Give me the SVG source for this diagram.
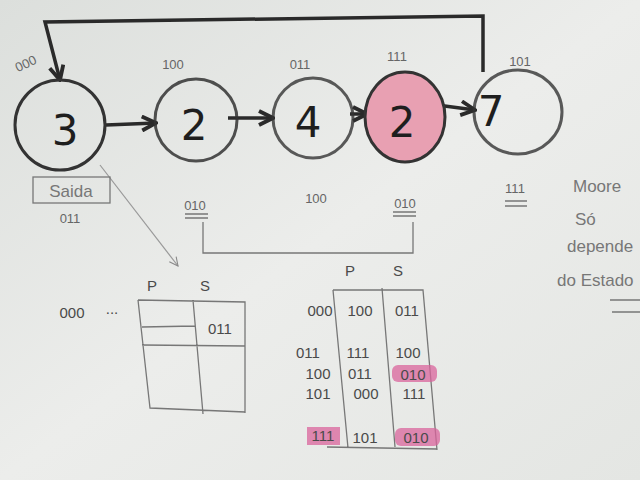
<svg xmlns="http://www.w3.org/2000/svg" width="640" height="480" viewBox="0 0 640 480">
<defs>
<linearGradient id="bg" x1="0" y1="0" x2="1" y2="1">
<stop offset="0" stop-color="#dcdfdc"/><stop offset="0.5" stop-color="#ecedeb"/><stop offset="1" stop-color="#e4e6e3"/>
</linearGradient>
<marker id="ah" viewBox="0 0 10 10" refX="9" refY="5" markerWidth="5" markerHeight="5" orient="auto"><path d="M1,1 L9,5 L1,9" fill="none" stroke="#2a2a2a" stroke-width="2.2"/></marker>
<marker id="ahg" viewBox="0 0 10 10" refX="9" refY="5" markerWidth="9" markerHeight="9" orient="auto"><path d="M1,1 L9,5 L1,9" fill="none" stroke="#888" stroke-width="1"/></marker>
</defs>
<style>
.st{fill:none;stroke:#333;stroke-width:3}
.big{font-family:"DejaVu Sans",sans-serif;font-size:42px;fill:#1e1e1e;text-anchor:middle}
.code{font-family:"Liberation Sans",sans-serif;font-size:13px;fill:#666;text-anchor:middle}
.tb{font-family:"Liberation Sans",sans-serif;font-size:15px;fill:#4a4a4a;text-anchor:middle}
.hand{font-family:"Liberation Sans",sans-serif;font-size:17px;fill:#777}
.thin{fill:none;stroke:#777;stroke-width:1.3}
.conn{fill:none;stroke:#2a2a2a;stroke-width:3.5;marker-end:url(#ah)}
.hl{fill:#d9649c;opacity:0.75}
</style>
<rect width="640" height="480" fill="url(#bg)"/>
<g id="connectors">
<path class="conn" d="M483,72 L483,16 L45,22 L60,80"/>
<path class="conn" d="M106,125 L156,123"/>
<path class="conn" d="M228,118 L273,118"/>
<path class="conn" d="M350,114 L367,114"/>
<path class="conn" d="M437,105 L475,110"/>
<path d="M100,165 L178,266" fill="none" stroke="#999" stroke-width="1.2" marker-end="url(#ahg)"/>
<path class="thin" d="M203,222 L203,253 L413,253 L413,222"/>
</g>
<g id="n1"><circle cx="60" cy="125" r="45" class="st"/><text x="65" y="145" class="big">3</text><text x="26" y="68" class="code" transform="rotate(-25 26 64)">000</text></g>
<g id="n2"><circle cx="196" cy="120" r="41" class="st" stroke-opacity="0.85"/><text x="194" y="140" class="big">2</text><text x="173" y="69" class="code">100</text></g>
<g id="n3"><circle cx="313" cy="118" r="40" class="st" stroke-opacity="0.8"/><text x="308" y="137" class="big">4</text><text x="300" y="69" class="code">011</text></g>
<g id="n4"><ellipse cx="405" cy="117" rx="40" ry="45" fill="#e8a0b2" stroke="#333" stroke-width="3"/><text x="402" y="137" class="big">2</text><text x="397" y="61" class="code">111</text></g>
<g id="n5"><ellipse cx="518" cy="112" rx="44" ry="42" class="st" stroke-width="2" stroke-opacity="0.8"/><text x="491" y="126" class="big">7</text><text x="520" y="66" class="code">101</text></g>
<g id="saida">
<rect x="33" y="177" width="77" height="26" class="thin"/>
<text x="71" y="197" class="hand" text-anchor="middle">Saida</text>
<text x="70" y="223" class="code">011</text>
</g>
<g id="outputs">
<text x="195" y="210" class="code">010</text><path class="thin" d="M185,214 L208,214 M185,218 L208,218"/>
<text x="316" y="203" class="code">100</text>
<text x="405" y="208" class="code">010</text><path class="thin" d="M393,212 L416,212 M393,216 L416,216"/>
<text x="515" y="193" class="code">111</text><path class="thin" d="M505,201 L527,201 M505,206 L527,206"/>
</g>
<g id="table1">
<text x="72" y="318" class="tb">000</text><text x="112" y="314" class="tb">...</text>
<text x="152" y="291" class="tb">P</text><text x="205" y="291" class="tb">S</text>
<path class="thin" d="M138,300 L245,302 L245,413 M138,300 L150,408 L245,412 M193,300 L203,414 M142,327 L195,326 M142,345 L245,346"/>
<text x="220" y="334" class="tb">011</text>
</g>
<g id="table2">
<text x="350" y="276" class="tb">P</text><text x="398" y="276" class="tb">S</text>
<path class="thin" d="M333,290 L423,290 L437,450 M333,290 L348,448 M327,447 L437,449 M382,288 L395,447"/>
<rect x="392" y="365" width="45" height="17" rx="6" class="hl"/>
<rect x="307" y="427" width="33" height="18" class="hl"/>
<rect x="395" y="428" width="45" height="18" rx="6" class="hl"/>
<text x="320" y="316" class="tb">000</text><text x="360" y="316" class="tb">100</text><text x="407" y="316" class="tb">011</text>
<text x="308" y="358" class="tb">011</text><text x="358" y="358" class="tb">111</text><text x="408" y="358" class="tb">100</text>
<text x="318" y="379" class="tb">100</text><text x="360" y="379" class="tb">011</text><text x="413" y="380" class="tb">010</text>
<text x="318" y="399" class="tb">101</text><text x="366" y="399" class="tb">000</text><text x="414" y="399" class="tb">111</text>
<text x="323" y="441" class="tb">111</text><text x="365" y="443" class="tb">101</text><text x="416" y="443" class="tb">010</text>
</g>
<g id="note">
<text x="573" y="192" class="hand" font-size="19">Moore</text>
<text x="575" y="225" class="hand">Só</text>
<text x="567" y="252" class="hand">depende</text>
<text x="557" y="286" class="hand">do Estado</text>
<path class="thin" d="M610,300 L640,300 M612,312 L640,312"/>
</g>
</svg>
